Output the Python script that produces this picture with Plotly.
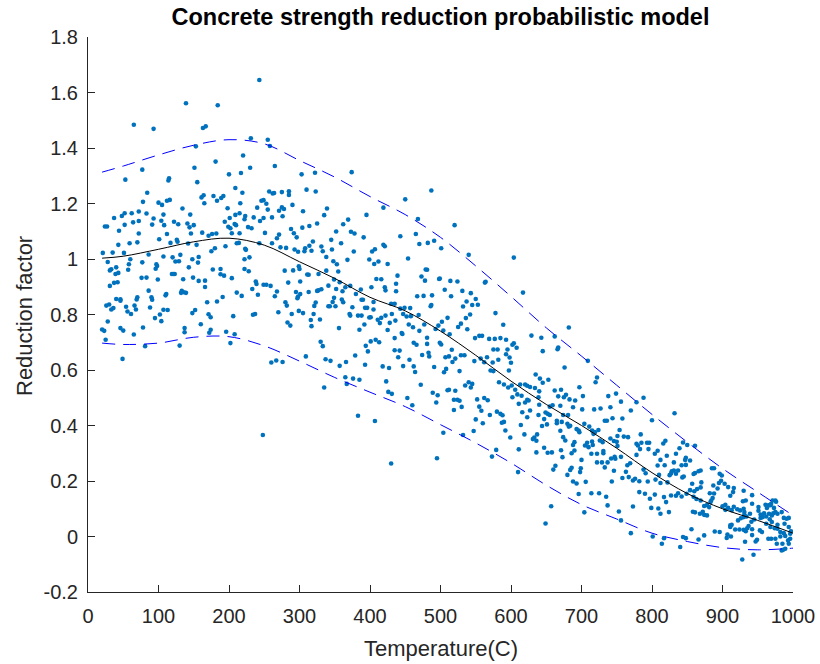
import plotly.graph_objects as go

# ---------------- data (temperature C, reduction factor) ----------------
pts_0_130 = [
(65,1.484),(93,1.469),(77,1.322),(53,1.286),(115,1.291),(114,1.283),(84,1.239),(78,1.206),(100,1.203),
(105,1.195),(112,1.210),(116,1.213),(37,1.148),(48,1.155),(52,1.165),(62,1.165),(72,1.171),(83,1.164),
(93,1.146),(107,1.160),(24,1.117),(27,1.117),(44,1.102),(52,1.123),(64,1.132),(72,1.137),(91,1.124),
(108,1.122),(104,1.138),(122,1.134),(128,1.125),(72,1.092),(70,1.060),(112,1.090),(101,1.071),(59,1.057),
(43,1.051),(117,1.058),(126,1.069),(127,1.062),(21,1.022),(35,1.023),(51,1.022),(86,1.016),(28,0.989),
(33,0.963),(31,0.959),(40,0.970),(43,0.950),(39,0.946),(58,0.981),(57,0.961),(60,0.999),(76,0.932),
(83,0.933),(97,0.981),(98,0.975),(96,0.965),(99,0.926),(77,0.988),(107,1.009),(119,0.946),(121,0.946),
(123,0.946),(120,1.006),(124,0.991),(129,0.992),(31,0.903),(37,0.914),(42,0.916),(40,0.856),(46,0.855),
(70,0.862),(69,0.854),(86,0.886),(90,0.862),(91,0.853),(110,0.869),(111,0.874),
(26,0.832),(30,0.836),(33,0.818),(36,0.823),(46,0.850),(54,0.828),(56,0.811),(61,0.802),(66,0.832),
(68,0.818),(88,0.825),(95,0.787),(102,0.800),(104,0.776),(107,0.817),(113,0.816),(28,0.775),(20,0.746),
(23,0.741),(25,0.709),(46,0.751),(50,0.742),(65,0.728),(78,0.753),(81,0.686),(49,0.640),(130,0.688),
]
pts_130_260 = [
(243,1.645),(139,1.561),(184,1.554),(163,1.472),(167,1.478),(231,1.435),(153,1.406),(181,1.351),
(151,1.329),(220,1.373),(230,1.329),(155,1.277),(200,1.305),(217,1.310),(209,1.256),(161,1.222),
(164,1.230),(165,1.201),(178,1.227),(183,1.210),(189,1.220),(192,1.227),(198,1.183),(216,1.201),
(219,1.239),(246,1.210),(249,1.212),(240,1.185),(215,1.165),(209,1.159),(134,1.182),(145,1.160),
(141,1.128),(144,1.114),(150,1.122),(194,1.134),(201,1.148),(199,1.116),(202,1.111),(208,1.126),
(210,1.122),(204,1.093),(215,1.093),(222,1.143),(223,1.155),(227,1.115),(232,1.111),(235,1.150),
(244,1.137),(249,1.148),(146,1.092),(142,1.056),(162,1.095),(171,1.084),(176,1.090),(182,1.092),
(195,1.046),(211,1.057),(214,1.058),(224,1.033),(243,1.057),(154,1.051),(180,1.039),(175,1.028),
(135,0.927),(131,1.015),(143,0.970),(149,0.933),(148,0.999),(156,0.987),(157,1.007),(157,0.921),
(166,0.899),(166,0.922),(177,0.962),(188,0.964),(188,0.945),(193,0.940),(204,0.931),(222,0.964),
(223,1.037),(222,0.999),(228,0.956),(229,1.006),(238,0.919),(239,0.910),(249,0.907),(133,0.885),
(136,0.880),(139,0.878),(132,0.878),(191,0.863),(211,0.879),(218,0.867),(233,0.892),(241,0.871),
(137,0.751),(137,0.736),(148,0.805),(152,0.816),(160,0.765),(169,0.844),(171,0.801),(174,0.790),
(174,0.745),(172,0.734),(183,0.847),(196,0.738),(202,0.697),(206,0.794),(208,0.729),(234,0.799),
(237,0.802),(248,0.366),
]
pts_250_380 = [
(255,1.430),(258,1.407),(265,1.335),(303,1.305),(322,1.311),(374,1.313),(310,1.250),(323,1.243),
(257,1.243),(262,1.236),(264,1.238),(275,1.241),(285,1.244),(285,1.231),(253,1.199),(255,1.178),
(271,1.174),(275,1.186),(278,1.180),(290,1.195),(276,1.154),(261,1.150),(305,1.172),(339,1.182),
(335,1.158),(369,1.142),(362,1.125),(325,1.128),(314,1.119),(304,1.113),(288,1.108),(292,1.093),
(296,1.078),(352,1.099),(373,1.098),(378,1.092),(251,1.094),(271,1.088),(268,1.075),(261,1.057),
(273,1.042),(281,1.040),(293,1.034),(298,1.026),(307,1.028),(308,1.039),(314,1.048),(319,1.063),
(317,1.030),(331,1.045),(333,1.028),(338,1.007),(345,1.069),(346,1.034),(359,1.057),(377,1.027),
(368,0.997),(348,0.992),(353,0.981),(355,0.955),(279,0.958),(291,0.959),(299,0.974),(300,0.964),
(284,0.915),(301,0.919),(311,0.944),(313,0.943),(327,0.946),(338,0.958),(349,0.926),(357,0.916),
(341,0.904),(352,0.892),(361,0.884),(365,0.898),(325,0.885),(327,0.887),(331,0.891),(313,0.881),
(295,0.881),(298,0.865),(297,0.859),(301,0.874),(253,0.907),(259,0.903),(268,0.883),(265,0.866),
(349,0.860),(360,0.854),(372,0.903),(380,0.874),
(270,0.808),(280,0.844),(282,0.832),(289,0.802),(283,0.771),(287,0.760),(299,0.813),(305,0.805),
(316,0.780),(317,0.758),(320,0.802),(321,0.831),(323,0.843),(329,0.782),(341,0.830),(343,0.830),
(347,0.845),(351,0.830),(362,0.844),(375,0.826),(356,0.751),(371,0.802),(372,0.796),(330,0.702),
(333,0.686),(357,0.615),(366,0.629),(337,0.639),(344,0.633),(309,0.649),(379,0.652),(260,0.627),
(267,0.634),(276,0.629),(365,0.574),(367,0.550),(376,0.569),(335,0.537),
]
pts_380_500 = [
(419,1.185),(450,1.215),(487,1.247),(395,1.159),(391,1.078),(468,1.144),(465,1.090),(443,1.082),
(399,0.998),(403,1.027),(406,0.982),(407,1.035),(412,0.991),(419,1.051),(421,1.046),(425,0.982),
(454,1.002),(470,1.054),(482,1.058),(491,1.066),(479,0.962),(481,0.961),(473,0.937),(478,0.922),
(498,0.928),(387,0.890),(388,0.853),(390,0.853),(402,0.898),(409,0.928),(416,0.927),(421,0.898),
(422,0.887),(437,0.911),(439,0.940),(437,0.884),(467,0.866),(476,0.867),(488,0.869),
(383,0.796),(388,0.796),(392,0.764),(385,0.745),(393,0.824),(396,0.824),(405,0.818),(399,0.789),
(401,0.790),(405,0.845),(411,0.781),(416,0.788),(414,0.769),(422,0.796),(428,0.770),(431,0.802),
(436,0.778),(425,0.744),(430,0.839),(435,0.839),(443,0.821),(447,0.802),(449,0.824),(452,0.793),
(457,0.823),(458,0.794),(469,0.798),(445,0.733),(446,0.730),(435,0.715),(455,0.764),(461,0.754),
(470,0.741),(477,0.764),(481,0.716),(487,0.834),(486,0.830),(493,0.748),(497,0.760),(394,0.687),
(397,0.667),(401,0.703),(408,0.709),(413,0.700),(393,0.619),(418,0.613),(427,0.607),(435,0.671),
(442,0.670),(440,0.646),(447,0.614),(456,0.637),(462,0.698),(466,0.691),(462,0.613),(464,0.593),
(474,0.654),(483,0.662),(484,0.649),(481,0.694),(491,0.611),(385,0.565),(423,0.559),(426,0.521),
(431,0.514),(472,0.547),(453,0.499),(460,0.473),(489,0.518),(496,0.509),(494,0.483),(383,0.435),
(407,0.416),(430,0.263),(495,0.282),
]
pts_500_620 = [
(520,1.122),(501,1.039),(540,1.015),(604,1.005),(564,0.918),(563,0.915),(617,0.879),(499,0.930),
(514,0.921),(524,0.919),(506,0.889),(515,0.866),(531,0.885),(543,0.877),(550,0.856),(553,0.835),
(545,0.834),(537,0.847),(532,0.829),(542,0.800),(536,0.787),(510,0.788),(502,0.774),(578,0.805),
(589,0.763),(529,0.767),(525,0.755),(538,0.747),(504,0.742),(513,0.729),(549,0.715),(555,0.723),
(559,0.723),(569,0.712),(577,0.712),(585,0.715),(593,0.709),(602,0.691),(604,0.696),(608,0.680),
(575,0.674),(581,0.674),(595,0.674),(499,0.698),(501,0.692),(516,0.673),(507,0.646),(512,0.649),
(529,0.653),(534,0.653),(521,0.641),(517,0.629),(548,0.632),(557,0.641),(562,0.628),(566,0.646),
(593,0.657),(598,0.645),(600,0.626),(582,0.637),(574,0.627),(571,0.598),(575,0.596),(508,0.604),
(505,0.592),(527,0.596),(597,0.598),
(510,0.527),(512,0.529),(521,0.525),(535,0.544),(540,0.556),(545,0.550),(543,0.537),(519,0.493),
(524,0.493),(527,0.489),(519,0.456),(530,0.467),(552,0.494),(562,0.499),(567,0.491),(555,0.468),
(558,0.453),(570,0.438),(560,0.408),(550,0.422),(580,0.450),(585,0.442),(588,0.437),(587,0.410),
(590,0.413),(547,0.380),(532,0.366),(504,0.374),(592,0.382),(599,0.357),(579,0.312),(611,0.314),
(573,0.288),(610,0.232),(583,0.556),(590,0.548),(596,0.537),(601,0.544),(602,0.502),(606,0.529),
(609,0.512),(611,0.478),(616,0.448),(615,0.507),(614,0.402),(613,0.548),(620,0.548),(620,0.483),
(619,0.368),
]
pts_620_750 = [
(629,0.724),(682,0.753),(643,0.716),(662,0.721),(667,0.681),(666,0.675),(645,0.668),(709,0.633),
(676,0.609),(722,0.573),(635,0.584),(641,0.569),(653,0.565),(623,0.430),(623,0.543),(627,0.539),
(634,0.535),(640,0.523),(625,0.490),(623,0.493),(627,0.454),(639,0.502),(640,0.475),(639,0.438),
(633,0.357),(631,0.351),(636,0.345),(637,0.368),(647,0.423),(644,0.398),(651,0.404),(649,0.447),
(655,0.438),(652,0.442),(655,0.468),(659,0.473),(670,0.471),(645,0.554),(662,0.526),(667,0.505),
(671,0.529),(678,0.511),(675,0.502),(683,0.494),(691,0.490),(697,0.538),(702,0.506),(688,0.466),
(701,0.458),(718,0.458),(727,0.461),(720,0.556),(674,0.438),(681,0.438),(672,0.413),(665,0.417),
(665,0.408),(680,0.406),(682,0.396),(684,0.399),(670,0.381),(674,0.358),(647,0.320),(652,0.302),
(658,0.303),(636,0.303),(660,0.241),(663,0.255),(671,0.311),(673,0.286),(680,0.222),(684,0.240),
(686,0.248),(688,0.198),(693,0.191),(690,0.310),(686,0.300),(688,0.330),(677,0.346),(693,0.387),
(697,0.376),(696,0.382),(704,0.406),(711,0.396),(715,0.382),(717,0.370),(719,0.376),(699,0.246),
(698,0.232),(700,0.276),(690,0.340),(705,0.328),(708,0.338),(710,0.322),(715,0.342),(716,0.330),
(714,0.298),(722,0.298),(722,0.267),(729,0.267),(731,0.308),(731,0.300),(733,0.249),(737,0.267),
(726,0.346),(730,0.340),(733,0.417),(736,0.417),(724,0.384),(741,0.353),(746,0.344),(742,0.281),
(747,0.287),(696,0.153),(706,0.197),(714,0.156),(725,0.156),(735,0.143),(737,0.112),(704,0.087),
(657,0.109),(649,0.047),(738,0.506),(741,0.466),(744,0.426),(746,0.237),(743,0.198),
(749,0.515),(748,0.280),(750,0.341),
]
pts_750_880 = [
(788,0.500),(756,0.486),(778,0.484),(770,0.454),(832,0.444),(758,0.425),(800,0.419),(754,0.384),
(751,0.362),(760,0.360),(766,0.358),(784,0.368),(751,0.326),(778,0.334),(780,0.328),(785,0.338),
(793,0.338),(796,0.338),(816,0.335),(819,0.345),(839,0.318),(850,0.330),(861,0.327),(844,0.339),
(808,0.309),(795,0.315),(783,0.315),(778,0.294),(769,0.264),(765,0.257),(756,0.287),(758,0.211),
(763,0.233),(767,0.214),(773,0.202),(776,0.208),(782,0.199),(794,0.198),(791,0.228),(788,0.241),
(805,0.205),(810,0.222),(812,0.193),(818,0.257),(808,0.256),(821,0.291),(825,0.221),(822,0.195),
(827,0.227),(828,0.235),(831,0.238),(834,0.226),(837,0.238),(834,0.298),(848,0.284),(845,0.216),
(843,0.213),(847,0.276),(842,0.257),(848,0.258),(854,0.274),(859,0.225),(861,0.229),(866,0.235),
(869,0.238),(860,0.163),(854,0.167),(859,0.143),(857,0.190),(870,0.195),(837,0.156),(827,0.148),
(834,0.147),(842,0.144),(864,0.171),(849,0.154),(782,0.160),(790,0.154),(797,0.136),(804,0.151),
(809,0.101),(812,0.082),(817,0.142),(820,0.124),(824,0.088),(799,0.103),(773,0.108),(753,0.090),
(756,0.058),(770,0.012),(801,0.000),(817,-0.006),(814,-0.026),(840,-0.038),(844,-0.002),(848,-0.006),
(856,0.026),(866,-0.011),(874,0.004),(858,0.089),(861,0.087),(868,0.082),(872,0.089),(874,0.078),
(878,0.076),(869,0.177),(863,0.135),(869,0.130),(874,0.110),(878,0.113),(804,0.298),(812,0.276),
(831,0.267),
]
pts_880_1000 = [
(885,0.246),(887,0.184),(895,0.193),(898,0.201),(893,0.173),(888,0.155),(882,0.156),(886,0.139),
(884,0.130),(881,0.106),(883,0.124),(888,0.246),(896,0.226),(899,0.220),(903,0.190),(908,0.178),
(911,0.147),(915,0.160),(916,0.175),(900,0.109),(904,0.114),(904,0.096),(908,0.103),(913,0.095),
(916,0.107),(921,0.098),(929,0.127),(930,0.165),(933,0.130),(930,0.100),(925,0.094),(931,0.088),
(931,0.078),(934,0.072),(913,0.042),(911,0.034),(918,0.025),(922,0.058),(926,0.066),(930,0.070),
(889,0.018),(896,0.016),(907,0.007),(912,0.000),(906,-0.005),(911,0.040),(924,0.025),(930,0.024),
(933,0.019),(937,0.038),(935,0.030),(932,-0.019),(928,-0.083),(944,-0.066),(942,0.118),(942,0.149),
(939,0.082),(941,0.053),(942,0.026),(945,0.061),(942,0.005),(951,0.106),(954,0.067),(957,0.070),
(959,0.084),(951,0.093),(954,0.079),(953,0.022),(956,0.016),(949,-0.012),(947,-0.018),(961,0.114),
(963,0.103),(965,0.112),(969,0.118),(975,0.130),(976,0.125),(971,0.130),(968,0.113),(962,0.072),
(966,0.082),(970,0.076),(972,0.084),(967,0.062),(962,0.046),(968,0.034),(970,0.052),(978,0.042),
(974,0.030),(978,0.028),(965,-0.008),(969,-0.008),(975,-0.008),(977,-0.026),(984,-0.050),(985,-0.026),
(986,-0.048),(989,-0.044),(982,0.000),(978,0.082),(984,0.088),(987,0.067),(991,0.064),(994,0.067),
(988,0.046),(994,0.034),(989,0.002),(996,-0.008),(993,-0.014),(994,-0.026),(982,0.016),(987,0.012),
(996,0.010),(997,0.019),(975,0.088),(973,0.103),
]

# model curves
curve_temp  = [20, 50, 100, 150, 200, 250, 300, 350, 400, 450, 500, 550, 600, 650, 700, 750, 800, 850, 900, 950, 1000]
curve_mean  = [1.003, 1.010, 1.035, 1.062, 1.075, 1.050, 0.990, 0.930, 0.862, 0.813, 0.740, 0.653, 0.560, 0.476, 0.400, 0.318, 0.230, 0.155, 0.100, 0.058, 0.012]
curve_upper = [1.313, 1.335, 1.375, 1.410, 1.430, 1.415, 1.355, 1.295, 1.225, 1.160, 1.078, 0.975, 0.865, 0.752, 0.650, 0.545, 0.440, 0.340, 0.245, 0.160, 0.076]
curve_lower = [0.697, 0.692, 0.697, 0.718, 0.720, 0.687, 0.632, 0.573, 0.520, 0.468, 0.403, 0.337, 0.265, 0.185, 0.115, 0.063, 0.012, -0.018, -0.040, -0.048, -0.042]

x_ticks = [0, 100, 200, 300, 400, 500, 600, 700, 800, 900, 1000]
y_ticks = [-0.2, 0, 0.2, 0.4, 0.6, 0.8, 1.0, 1.2, 1.4, 1.6, 1.8]
y_tick_text = ["-0.2", "0", "0.2", "0.4", "0.6", "0.8", "1", "1.2", "1.4", "1.6", "1.8"]

title_text = "Concrete strength reduction probabilistic model"
x_label = "Temperature(C)"
y_label = "Reduction factor"

# ---------------- figure ----------------
all_pts = pts_0_130 + pts_130_260 + pts_250_380 + pts_380_500 + pts_500_620 + pts_620_750 + pts_750_880 + pts_880_1000
temps = [p[0] for p in all_pts]
factors = [p[1] for p in all_pts]

FONT = "Liberation Sans, Arial, sans-serif"
AX = "#262626"
L, R = 88, 27
PW = 820 - L - R

fig = go.Figure()
fig.add_trace(go.Scatter(x=temps, y=factors, mode="markers",
                         marker=dict(color="#0072BD", size=4.6, line=dict(width=0)),
                         showlegend=False, hoverinfo="skip"))
fig.add_trace(go.Scatter(x=curve_temp, y=curve_mean, mode="lines",
                         line=dict(color="black", width=1, shape="spline", smoothing=1.0),
                         showlegend=False))
for c in (curve_upper, curve_lower):
    fig.add_trace(go.Scatter(x=curve_temp, y=c, mode="lines",
                             line=dict(color="#0000FF", width=1, dash="13px,8px", shape="spline", smoothing=1.0),
                             showlegend=False))

axis_common = dict(showgrid=False, zeroline=False, showline=True, linecolor=AX, linewidth=1,
                   ticks="inside", ticklen=7, tickwidth=1, tickcolor=AX, mirror=False, automargin=False,
                   tickfont=dict(family=FONT, size=20, color=AX))
fig.update_xaxes(range=[0, 1000], tickvals=x_ticks, ticklabelstandoff=6, **axis_common)
fig.update_yaxes(range=[-0.2, 1.8], tickvals=y_ticks, ticktext=y_tick_text, ticklabelstandoff=5, **axis_common)

fig.update_layout(
    width=820, height=664, autosize=False, showlegend=False,
    margin=dict(l=L, r=R, t=37, b=72, pad=0, autoexpand=False),
    paper_bgcolor="white", plot_bgcolor="white",
    title=dict(text="<b>" + title_text + "</b>", x=(L + PW / 2) / 820, xanchor="center",
               y=1 - 17 / 664, yanchor="middle", font=dict(family=FONT, size=23.5, color="black")),
    annotations=[
        dict(text=x_label, xref="paper", yref="paper", x=0.5, y=(592 - 648) / 555,
             xanchor="center", yanchor="middle", showarrow=False,
             font=dict(family=FONT, size=22, color=AX)),
        dict(text=y_label, xref="paper", yref="paper", x=(24 - L) / PW, y=(592 - 316) / 555,
             xanchor="center", yanchor="middle", showarrow=False, textangle=-90,
             font=dict(family=FONT, size=22, color=AX)),
    ],
)

fig.write_html("out.html")
